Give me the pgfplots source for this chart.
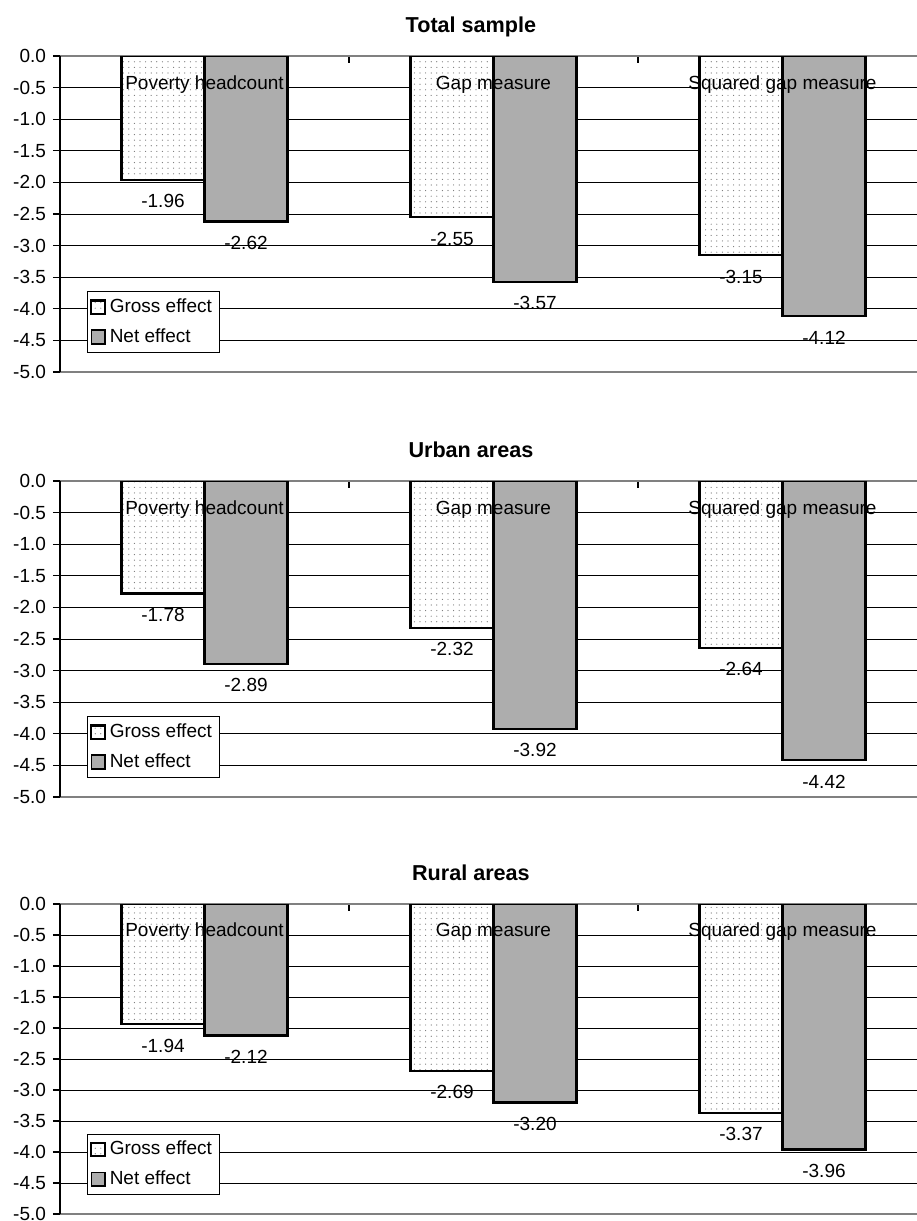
\documentclass[border=0pt]{standalone}
\usepackage{fontspec}
\setmainfont{Liberation Sans}
\usepackage{pgfplots}
\pgfplotsset{compat=1.18}
\usetikzlibrary{patterns.meta}

\definecolor{netgray}{gray}{0.68}
\newcommand{\lbl}{\fontsize{9.5}{11}\selectfont}
\tikzset{catlabel/.style={font=\lbl, anchor=base}}

\pgfplotsset{
  panel/.style={
    scale only axis, width=433.5pt, height=158pt,
    xmin=0, xmax=3, ymin=-5, ymax=0,
    separate axis lines,
    every outer x axis line/.append style={draw=gray, line width=0.9pt},
    every outer y axis line/.append style={draw=black, line width=0.9pt},
    xtick={1,2}, xticklabels={}, xtick pos=right, xtick align=outside,
    xtick style={yshift=-3.5pt},
    ytick={-5,-4.5,-4,-3.5,-3,-2.5,-2,-1.5,-1,-0.5,0},
    ytick pos=left, ytick align=outside,
    major tick length=3.5pt,
    tick style={black, line width=0.6pt},
    ymajorgrids, major grid style={black, line width=0.45pt},
    /pgf/number format/assume math mode=true,
    yticklabel={\pgfmathprintnumber[fixed,fixed zerofill,precision=1]{\tick}},
    ticklabel style={font=\lbl},
    title style={font=\fontsize{10.8}{12}\selectfont\bfseries, at={(0.474,1)}, anchor=base, yshift=6pt},
    ybar, bar width=41.5pt,
    nodes near coords={\pgfmathprintnumber[fixed,fixed zerofill,precision=2]{\pgfplotspointmeta}},
    every node near coord/.append style={font=\lbl, black, yshift=-3.5pt},
    legend style={at={(0.031,0.06)}, anchor=south west, draw=black, line width=0.5pt,
      font=\lbl, row sep=2.5pt, inner sep=1.6pt},
    legend cell align=left,
  },
  gross/.style={draw=black, line width=1.1pt, preaction={fill=white},
    pattern={Dots[radius=0.3pt, distance=2.8pt]}, pattern color=black!55, bar shift=-20.75pt,
    legend image code/.code={\draw[##1, line width=0.8pt] (0pt,-3.4pt) rectangle (6.8pt,3.4pt);}},
  net/.style={draw=black, line width=1.1pt, fill=netgray, bar shift=20.75pt,
    legend image code/.code={\draw[##1, line width=0.8pt] (0pt,-3.4pt) rectangle (6.8pt,3.4pt);}},
}

\begin{document}
\begin{tikzpicture}
\useasboundingbox (0,0) rectangle (458pt,-610.5pt);

% Total sample
\begin{axis}[panel, at={(30pt,-28pt)}, anchor=north west, title={Total sample}]
  \addplot[gross] coordinates {(0.5,-1.96) (1.5,-2.55) (2.5,-3.15)};
  \addplot[net] coordinates {(0.5,-2.62) (1.5,-3.57) (2.5,-4.12)};
  \legend{Gross effect, Net effect}
  \node[catlabel] at (axis cs:0.5,-0.53) {Poverty headcount};
  \node[catlabel] at (axis cs:1.5,-0.53) {Gap measure};
  \node[catlabel] at (axis cs:2.5,-0.53) {Squared gap measure};
\end{axis}

% Urban areas
\begin{axis}[panel, at={(30pt,-240.5pt)}, anchor=north west, title={Urban areas}]
  \addplot[gross] coordinates {(0.5,-1.78) (1.5,-2.32) (2.5,-2.64)};
  \addplot[net] coordinates {(0.5,-2.89) (1.5,-3.92) (2.5,-4.42)};
  \legend{Gross effect, Net effect}
  \node[catlabel] at (axis cs:0.5,-0.53) {Poverty headcount};
  \node[catlabel] at (axis cs:1.5,-0.53) {Gap measure};
  \node[catlabel] at (axis cs:2.5,-0.53) {Squared gap measure};
\end{axis}

% Rural areas
\begin{axis}[panel, height=155pt, at={(30pt,-452pt)}, anchor=north west, title={Rural areas}]
  \addplot[gross] coordinates {(0.5,-1.94) (1.5,-2.69) (2.5,-3.37)};
  \addplot[net] coordinates {(0.5,-2.12) (1.5,-3.20) (2.5,-3.96)};
  \legend{Gross effect, Net effect}
  \node[catlabel] at (axis cs:0.5,-0.53) {Poverty headcount};
  \node[catlabel] at (axis cs:1.5,-0.53) {Gap measure};
  \node[catlabel] at (axis cs:2.5,-0.53) {Squared gap measure};
\end{axis}
\end{tikzpicture}
\end{document}
